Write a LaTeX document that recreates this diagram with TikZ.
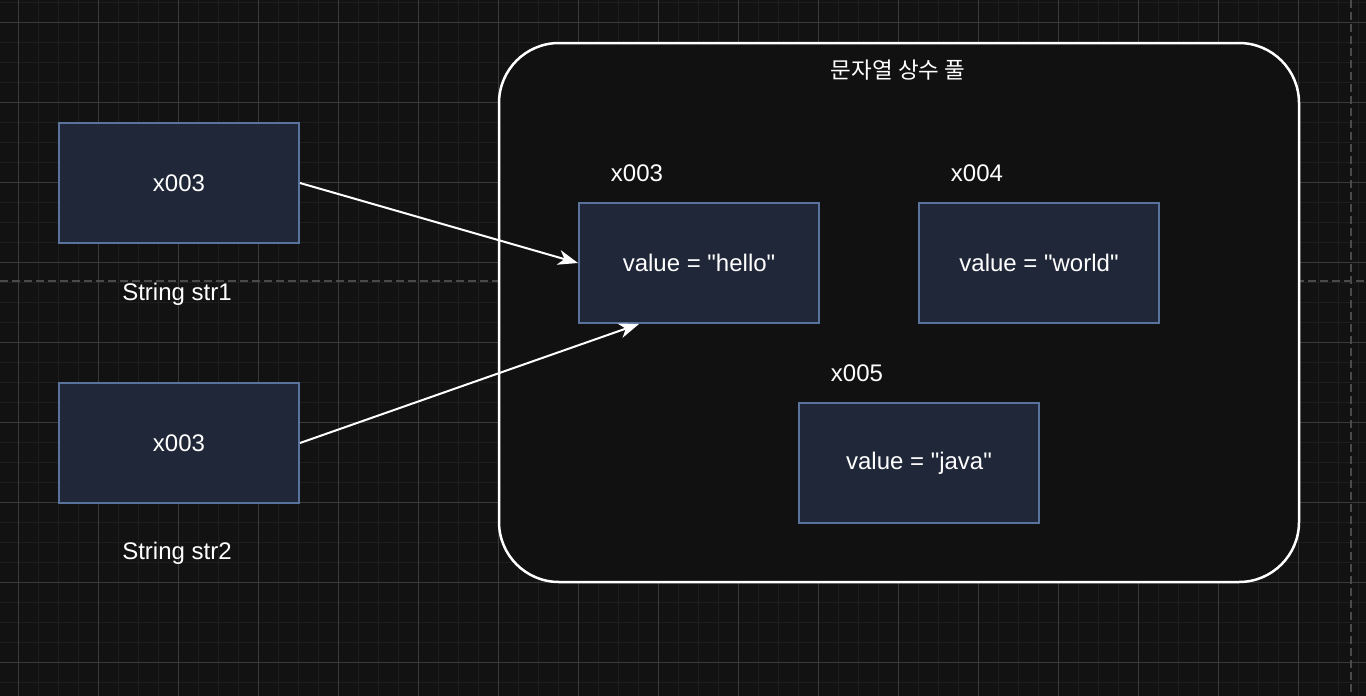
\documentclass[tikz,border=0pt]{standalone}
\usepackage{fontspec}
\setmainfont{Liberation Sans}[Ligatures=TeXOff]
\newfontfamily\krfont{Noto Sans CJK KR}
\usetikzlibrary{arrows.meta}
\definecolor{bgc}{HTML}{121212}
\definecolor{minorc}{HTML}{1E1E1E}
\definecolor{majorc}{HTML}{3A3A3A}
\definecolor{dashc}{HTML}{4A4A4A}
\definecolor{nodefill}{HTML}{1F2738}
\definecolor{nodeborder}{HTML}{5A739C}
\definecolor{poolfill}{HTML}{111111}
\tikzset{
  membox/.style={draw=nodeborder, fill=nodefill, line width=2pt, minimum width=240pt, minimum height=120pt, inner sep=0pt, text=white, font=\fontsize{24}{28}\selectfont},
  lbl/.style={text=white, font=\fontsize{24}{28}\selectfont, inner sep=0pt},
  ptr/.style={draw=white, line width=2pt, -{Stealth[length=20pt,width=15pt,inset=6pt]}}
}
\begin{document}
\begin{tikzpicture}[x=1pt,y=-1pt]
\useasboundingbox (0,0) rectangle (1366,696);
\fill[bgc] (0,0) rectangle (1366,696);
% minor grid
\foreach \gx in {18,38,...,1366} \draw[minorc, line width=1pt] (\gx,0) -- (\gx,696);
\foreach \gy in {2,22,...,696} \draw[minorc, line width=1pt] (0,\gy) -- (1366,\gy);
% major grid
\foreach \gx in {18,98,...,1366} \draw[majorc, line width=1pt] (\gx,0) -- (\gx,696);
\foreach \gy in {22,102,...,696} \draw[majorc, line width=1pt] (0,\gy) -- (1366,\gy);
% dashed guides
\draw[dashc, line width=1.5pt, dash pattern=on 8pt off 4pt] (0,281) -- (1366,281);
\draw[dashc, line width=1.5pt, dash pattern=on 8pt off 4pt] (1351,0) -- (1351,696);
% pool
\node[draw=white, fill=poolfill, line width=2.5pt, rounded corners=60pt, minimum width=800pt, minimum height=539pt, inner sep=0pt] (pool) at (899,312.5) {};
\node[text=white, inner sep=0pt, font=\krfont\fontsize{22.5}{26}\selectfont] (title) at (898,70) {문자열 상수 풀};
% nodes
\node[membox] (s1) at (179,183) {x003};
\node[membox] (s2) at (179,443) {x003};
\node[lbl] (s1l) at (177,294) {String str1};
\node[lbl] (s2l) at (177,553) {String str2};
\node[membox] (hello) at (699,263) {value = "hello"};
\node[membox] (world) at (1039,263) {value = "world"};
\node[membox] (java) at (919,463) {value = "java"};
\node[lbl] (a3) at (637,173) {x003};
\node[lbl] (a4) at (977,173) {x004};
\node[lbl] (a5) at (857,373) {x005};
% pointers
\coordinate (h1) at (hello.west);
\coordinate (h2) at ([xshift=-60pt]hello.south);
\draw[ptr] (s1.east) -- (h1);
\draw[ptr] (s2.east) -- (h2);
\end{tikzpicture}
\end{document}
